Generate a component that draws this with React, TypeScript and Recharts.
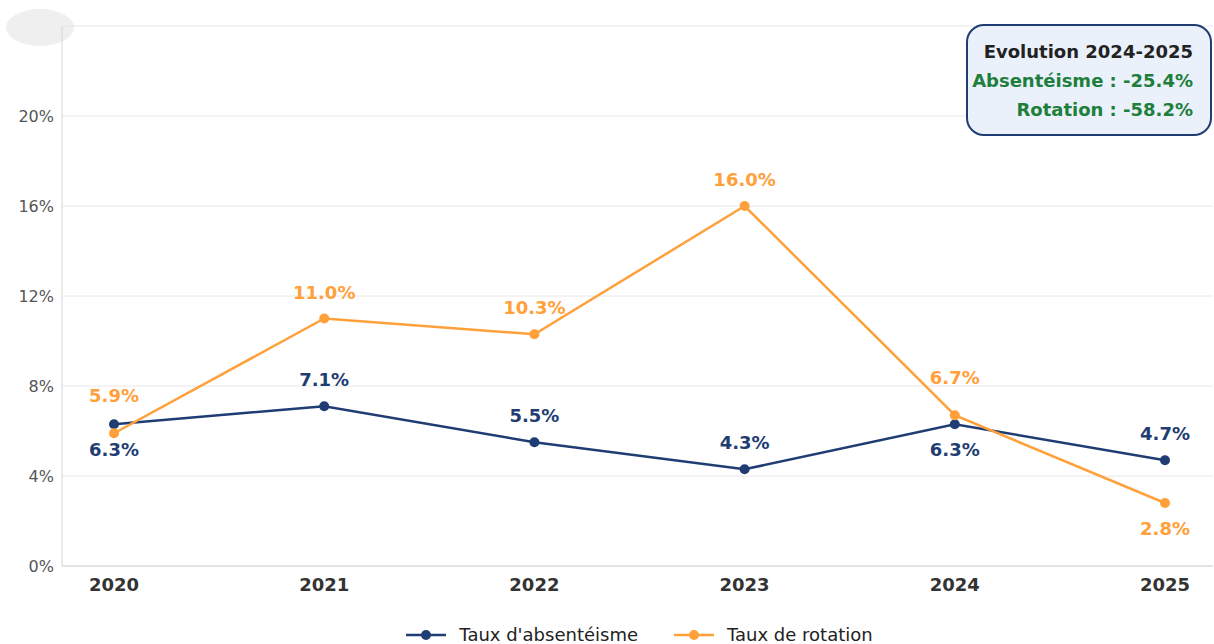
import { LineChart, Line, XAxis, YAxis, CartesianGrid, Legend, LabelList } from 'recharts'

const YEARS = ['2020', '2021', '2022', '2023', '2024', '2025']
const ABSENTEEISM = [6.3, 7.1, 5.5, 4.3, 6.3, 4.7]
const ROTATION = [5.9, 11.0, 10.3, 16.0, 6.7, 2.8]
// where each value label sits relative to its point
const ABS_PLACE = ['below', 'above', 'above', 'above', 'below', 'above']
const ROT_PLACE = ['far', 'above', 'above', 'above', 'far', 'below']
const Y_TICKS = [0, 4, 8, 12, 16, 20, 24]

const NAVY = '#1f3d73'
const ORANGE = '#ffa03a'
const GREEN = '#1e7e3c'
const FONT = '"DejaVu Sans", sans-serif'

const data = YEARS.map((year, i) => ({ year, abs: ABSENTEEISM[i], rot: ROTATION[i] }))

const SHIFT: Record<string, number> = { above: -20, far: -31, below: 32 }

const makeLabel = (color: string, place: string[]) => (props: any) => {
  const { x, y, value, index } = props
  return (
    <text x={x} y={y + SHIFT[place[index]]} textAnchor="middle" fill={color} fontSize={18} fontWeight={700} fontFamily={FONT}>
      {Number(value).toFixed(1)}%
    </text>
  )
}

export default function App() {
  return (
    <div style={{ position: 'absolute', left: 0, top: 0, width: 1214, height: 644, background: '#fff', fontFamily: FONT }}>
      <div style={{ position: 'absolute', left: 6, top: 9, width: 68, height: 37, borderRadius: '50%', background: '#efefef' }} />
      <LineChart width={1214} height={644} data={data} margin={{ top: 26, right: 1, left: 0, bottom: 0 }}>
        <CartesianGrid stroke="#e8e8e8" vertical={false} />
        <XAxis dataKey="year" padding={{ left: 52, right: 48 }} height={54}
          axisLine={{ stroke: '#d6d6d6' }} tickLine={false}
          tick={{ fontSize: 18, fontWeight: 700, fill: '#333', fontFamily: FONT }} dy={4} />
        <YAxis width={62} domain={[0, 24]} ticks={Y_TICKS} interval={0}
          axisLine={{ stroke: '#d6d6d6' }} tickLine={false}
          tickFormatter={(v: number) => (v === 24 ? '' : `${v}%`)}
          tick={{ fontSize: 16, fill: '#555', fontFamily: FONT }} />
        <Legend verticalAlign="bottom" height={24}
          content={() => (
            <div style={{ display: 'flex', justifyContent: 'center', gap: 36, fontSize: 18, color: '#222', lineHeight: '24px', paddingLeft: 66, paddingTop: 3 }}>
              {[{ n: "Taux d'absentéisme", c: NAVY }, { n: 'Taux de rotation', c: ORANGE }].map(it => (
                <div key={it.n} style={{ display: 'flex', alignItems: 'center', gap: 13 }}>
                  <svg width={40} height={12}>
                    <line x1={0} y1={6} x2={40} y2={6} stroke={it.c} strokeWidth={2.5} />
                    <circle cx={20} cy={6} r={5} fill={it.c} />
                  </svg>
                  <span>{it.n}</span>
                </div>
              ))}
            </div>
          )} />
        <Line type="linear" dataKey="abs" name="Taux d'absentéisme" stroke={NAVY} strokeWidth={2.5}
          dot={{ r: 5, fill: NAVY, stroke: NAVY, strokeWidth: 0 }} isAnimationActive={false}>
          <LabelList dataKey="abs" content={makeLabel(NAVY, ABS_PLACE)} />
        </Line>
        <Line type="linear" dataKey="rot" name="Taux de rotation" stroke={ORANGE} strokeWidth={2.5}
          dot={{ r: 5, fill: ORANGE, stroke: ORANGE, strokeWidth: 0 }} isAnimationActive={false}>
          <LabelList dataKey="rot" content={makeLabel(ORANGE, ROT_PLACE)} />
        </Line>
      </LineChart>
      <div style={{
        position: 'absolute', left: 966, top: 24, width: 246, height: 112, boxSizing: 'border-box',
        border: `2px solid ${NAVY}`, borderRadius: 18, background: '#eaf1fa',
        textAlign: 'right', padding: '11px 17px 0 0', fontWeight: 700, fontSize: 18, lineHeight: '29px',
      }}>
        <div style={{ color: '#222' }}>Evolution 2024-2025</div>
        <div style={{ color: GREEN }}>Absentéisme : -25.4%</div>
        <div style={{ color: GREEN }}>Rotation : -58.2%</div>
      </div>
    </div>
  )
}
